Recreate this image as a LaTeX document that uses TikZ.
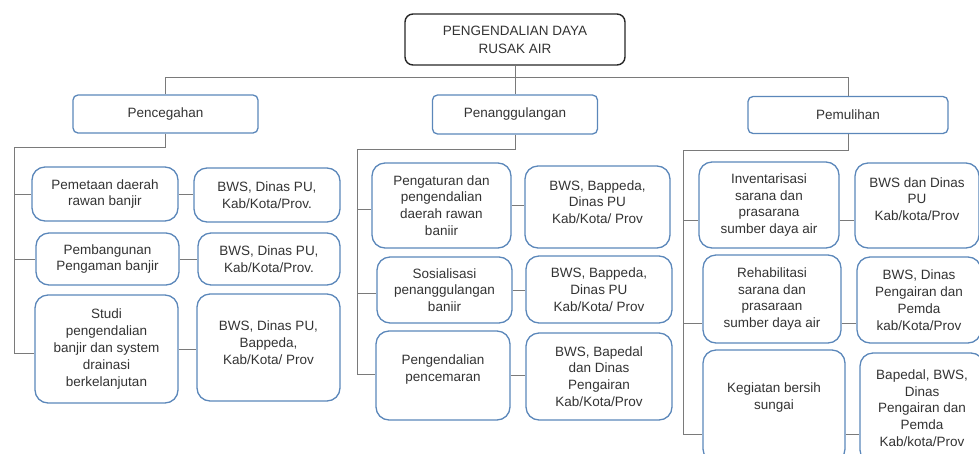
\documentclass[tikz,border=0pt]{standalone}
\usepackage{fontspec}
\setmainfont{Liberation Sans}
\usetikzlibrary{calc}
\definecolor{boxblue}{HTML}{5B87BA}
\definecolor{linegray}{HTML}{7A7A7A}
\definecolor{textgray}{HTML}{333333}
\tikzset{
	rootbox/.style={draw=black!85, line width=1.4pt, rounded corners=8pt, align=center, inner sep=0pt, text=textgray, font=\fontsize{13.5}{18}\selectfont},
	headbox/.style={draw=boxblue, line width=1.3pt, rounded corners=5pt, align=center, inner sep=0pt, text=textgray, font=\fontsize{13.5}{16.8}\selectfont},
	itembox/.style={headbox, rounded corners=13pt},
	link/.style={draw=linegray, line width=1pt},
}

\begin{document}
\begin{tikzpicture}[x=1pt, y=-1pt]
			%%%%% START %%%%%
			\useasboundingbox (0,0) rectangle (979,453);
			\clip (0,0) rectangle (979,453);
			
			\node[rootbox, minimum width=220pt, minimum height=51pt] (root) at (515,39.5) {PENGENDALIAN DAYA\\RUSAK AIR};
			
			\node[headbox, minimum width=185pt, minimum height=38pt] (pencegahan) at (165.5,114) {Pencegahan};
			\node[headbox, minimum width=165pt, minimum height=39pt] (penanggulangan) at (515,114.5) {Penanggulangan};
			\node[headbox, minimum width=200pt, minimum height=37pt] (pemulihan) at (848,115) {Pemulihan};
			
			\coordinate (bus) at (515,77);
			\draw[link] (root) -- (penanggulangan);
			\draw[link] (pencegahan.north) |- (pemulihan.north |- bus) -- (pemulihan.north);
			
			%%%%% PENCEGAHAN %%%%%
			\node[itembox, minimum width=146pt, minimum height=54pt] (pemetaan) at (105,194) {Pemetaan daerah\\rawan banjir};
			\node[itembox, minimum width=146pt, minimum height=54pt] (bwsa) at (267,195) {BWS, Dinas PU,\\Kab/Kota/Prov.};
			\node[itembox, minimum width=143pt, minimum height=52pt] (pembangunan) at (107.5,259) {Pembangunan\\Pengaman banjir};
			\node[itembox, minimum width=142pt, minimum height=52pt] (bwsb) at (269,259) {BWS, Dinas PU,\\Kab/Kota/Prov.};
			\node[itembox, minimum width=143pt, minimum height=108pt] (studi) at (106.5,349) {Studi\\pengendalian\\banjir dan system\\drainasi\\berkelanjutan};
			\node[itembox, minimum width=143pt, minimum height=107pt] (bwsc) at (268.5,347.5) {BWS, Dinas PU,\\Bappeda,\\Kab/Kota/ Prov\\[-7pt]};
			
			\coordinate (lspine) at (14,147);
			\coordinate (lend) at ($(studi.west)+(0,4)$);
			\draw[link] (pencegahan.south) |- (lspine) -- (lspine |- lend) -- (lend);
			\draw[link] (lspine |- pemetaan.west) -- (pemetaan.west);
			\draw[link] (lspine |- pembangunan.west) -- (pembangunan.west);
			\draw[link] (pemetaan.east) -- (pemetaan.east -| bwsa.west);
			\draw[link] (pembangunan.east) -- (pembangunan.east -| bwsb.west);
			\draw[link] (studi.east) -- (studi.east -| bwsc.west);
			
			%%%%% PENANGGULANGAN %%%%%
			\node[itembox, minimum width=139pt, minimum height=85pt] (pengaturan) at (441.5,205.5) {Pengaturan dan\\pengendalian\\daerah rawan\\baniir};
			\node[itembox, minimum width=145pt, minimum height=82pt] (bwsd) at (597.5,207) {BWS, Bappeda,\\Dinas PU\\Kab/Kota/ Prov\\[-7pt]};
			\node[itembox, minimum width=135pt, minimum height=66pt] (sosialisasi) at (444.5,290) {Sosialisasi\\penanggulangan\\baniir};
			\node[itembox, minimum width=146pt, minimum height=67pt] (bwse) at (599,289.5) {BWS, Bappeda,\\Dinas PU\\Kab/Kota/ Prov};
			\node[itembox, minimum width=134pt, minimum height=89pt] (pencemaran) at (443,375.5) {Pengendalian\\pencemaran\\[-2pt]};
			\node[itembox, minimum width=146pt, minimum height=87pt] (bwsf) at (599,376.5) {BWS, Bapedal\\dan Dinas\\Pengairan\\Kab/Kota/Prov};
			
			\coordinate (mspine) at (357,149);
			\coordinate (mend) at ($(pencemaran.west)+(0,-1.5)$);
			\draw[link] (penanggulangan.south) |- (mspine) -- (mspine |- mend) -- (mend);
			\draw[link] (mspine |- pengaturan.west) ++(0,4) -- ($(pengaturan.west)+(0,4)$);
			\draw[link] (mspine |- sosialisasi.west) ++(0,3) -- ($(sosialisasi.west)+(0,3)$);
			\draw[link] (pengaturan.east) -- (pengaturan.east -| bwsd.west);
			\draw[link] (sosialisasi.east) -- (sosialisasi.east -| bwse.west);
			\draw[link] (pencemaran.east) -- (pencemaran.east -| bwsf.west);
			
			%%%%% PEMULIHAN %%%%%
			\node[itembox, minimum width=140pt, minimum height=86pt] (inventarisasi) at (769,205) {Inventarisasi\\sarana dan\\prasarana\\sumber daya air};
			\node[itembox, minimum width=124pt, minimum height=85pt] (bwsg) at (917,205.5) {BWS dan Dinas\\PU\\Kab/kota/Prov\\[-4pt]};
			\node[itembox, minimum width=138pt, minimum height=88pt] (rehabilitasi) at (772,299) {Rehabilitasi\\sarana dan\\prasaraan\\sumber daya air};
			\node[itembox, minimum width=124pt, minimum height=86pt] (bwsh) at (919,300) {BWS, Dinas\\Pengairan dan\\Pemda\\kab/Kota/Prov};
			\node[itembox, minimum width=142pt, minimum height=112pt] (kegiatan) at (774,406) {Kegiatan bersih\\sungai\\[3pt]};
			\node[itembox, minimum width=124pt, minimum height=110pt] (bwsi) at (922,408) {Bapedal, BWS,\\Dinas\\Pengairan dan\\Pemda\\Kab/kota/Prov};
			
			\coordinate (rspine) at (683,150);
			\coordinate (ra) at ($(inventarisasi.west)+(0,15)$);
			\coordinate (rb) at ($(rehabilitasi.west)+(0,24)$);
			\coordinate (rc) at ($(kegiatan.west)+(0,28)$);
			\draw[link] (pemulihan.south) |- (rspine) -- (rspine |- rc) -- (rc);
			\draw[link] (rspine |- ra) -- (ra);
			\draw[link] (rspine |- rb) -- (rb);
			\draw[link] (ra -| inventarisasi.east) -- (ra -| bwsg.west);
			\draw[link] (rb -| rehabilitasi.east) -- (rb -| bwsh.west);
			\draw[link] (rc -| kegiatan.east) -- (rc -| bwsi.west);
			%%%%% END %%%%%
\end{tikzpicture}
\end{document}
